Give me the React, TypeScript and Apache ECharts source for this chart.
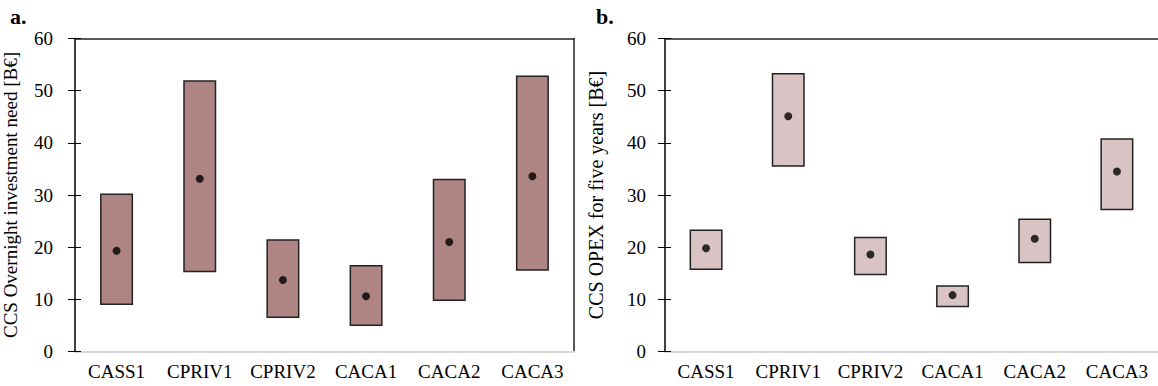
import React, { useEffect, useRef } from "react";
import * as echarts from "echarts";

const categories = ["CASS1", "CPRIV1", "CPRIV2", "CACA1", "CACA2", "CACA3"];

const investLow = [8.9, 15.2, 6.4, 4.9, 9.7, 15.5];
const investHigh = [30.3, 52.0, 21.5, 16.6, 33.1, 52.9];
const investMid = [19.3, 33.1, 13.7, 10.6, 21.0, 33.6];

const opexLow = [15.6, 35.4, 14.6, 8.5, 16.9, 27.1];
const opexHigh = [23.4, 53.4, 22.0, 12.7, 25.5, 40.9];
const opexMid = [19.8, 45.1, 18.6, 10.8, 21.6, 34.5];

const yTicks = [0, 10, 20, 30, 40, 50, 60];

const FONT = "'Liberation Serif', 'Times New Roman', serif";

export default function App() {
  const ref = useRef<HTMLDivElement>(null);

  useEffect(() => {
    if (!ref.current) return;
    const chart = echarts.init(ref.current, null, { renderer: "svg" });

    const yMin = yTicks[0];
    const yMax = yTicks[yTicks.length - 1];
    const yInt = yTicks[1] - yTicks[0];

    const mainY = (grid: number, name: string, nameGap: number, margin: number, nameSize: number) => ({
      type: "value",
      gridIndex: grid,
      position: "left",
      min: yMin,
      max: yMax,
      interval: yInt,
      name,
      nameLocation: "middle",
      nameGap,
      nameTextStyle: { fontFamily: FONT, fontSize: nameSize, color: "#000" },
      axisLine: { show: true, lineStyle: { color: "#000", width: 1.5 } },
      axisTick: { show: true, inside: false, length: 7, lineStyle: { color: "#000", width: 1 } },
      axisLabel: { fontFamily: FONT, fontSize: 19, color: "#000", margin },
      splitLine: { show: false },
    });
    const innerTickY = (grid: number) => ({
      type: "value",
      gridIndex: grid,
      position: "left",
      min: yMin,
      max: yMax,
      interval: yInt,
      axisLine: { show: false },
      axisTick: { show: true, inside: true, length: 6, lineStyle: { color: "#000", width: 1 } },
      axisLabel: { show: false },
      splitLine: { show: false },
    });
    const borderY = (grid: number) => ({
      type: "value",
      gridIndex: grid,
      position: "right",
      min: yMin,
      max: yMax,
      interval: yInt,
      axisLine: { show: true, lineStyle: { color: "#222", width: 1.5 } },
      axisTick: { show: false },
      axisLabel: { show: false },
      splitLine: { show: false },
    });
    const catX = (grid: number) => ({
      type: "category",
      gridIndex: grid,
      data: categories,
      position: "bottom",
      axisLine: { show: true, onZero: false, lineStyle: { color: "#d9d9d9", width: 2 } },
      axisTick: { show: false },
      axisLabel: {
        fontFamily: FONT,
        fontSize: 19,
        color: "#000",
        margin: 10,
        interval: 0,
        hideOverlap: false,
      },
    });
    const topX = (grid: number) => ({
      type: "category",
      gridIndex: grid,
      data: categories,
      position: "top",
      axisLine: { show: true, onZero: false, lineStyle: { color: "#222", width: 1.5 } },
      axisTick: { show: false },
      axisLabel: { show: false },
    });

    const rangeSeries = (
      xi: number,
      yi: number,
      stack: string,
      low: number[],
      high: number[],
      mid: number[],
      color: string
    ) => [
      {
        type: "bar",
        xAxisIndex: xi,
        yAxisIndex: yi,
        stack,
        barWidth: 33,
        data: low,
        itemStyle: { color: "transparent" },
        silent: true,
      },
      {
        type: "bar",
        xAxisIndex: xi,
        yAxisIndex: yi,
        stack,
        barWidth: 33,
        data: high.map((h, i) => +(h - low[i]).toFixed(2)),
        itemStyle: { color, borderColor: "#222", borderWidth: 1.5 },
      },
      {
        type: "scatter",
        xAxisIndex: xi,
        yAxisIndex: yi,
        data: mid,
        symbol: "circle",
        symbolSize: 8,
        itemStyle: { color: "#000" },
        z: 5,
      },
    ];

    chart.setOption({
      animation: false,
      backgroundColor: "#fff",
      grid: [
        { left: 75, top: 38.5, width: 499, height: 313 },
        { left: 665, top: 38.5, width: 499, height: 313 },
      ],
      xAxis: [catX(0), topX(0), catX(1), topX(1)],
      yAxis: [
        mainY(0, "CCS Overnight investment need [B€]", 55, 22, 19),
        innerTickY(0),
        borderY(0),
        mainY(1, "CCS OPEX for five years [B€]", 59, 19, 20),
        innerTickY(1),
      ],
      series: [
        ...rangeSeries(0, 0, "a", investLow, investHigh, investMid, "#af8583"),
        ...rangeSeries(2, 3, "b", opexLow, opexHigh, opexMid, "#d9c3c4"),
      ],
      graphic: [
        {
          type: "text",
          left: 10,
          top: 5,
          style: { text: "a.", font: `bold 22px ${FONT}`, fill: "#000" },
        },
        {
          type: "text",
          left: 596,
          top: 5,
          style: { text: "b.", font: `bold 22px ${FONT}`, fill: "#000" },
        },
      ],
    });

    return () => chart.dispose();
  }, []);

  return (
    <div
      ref={ref}
      style={{ position: "fixed", left: 0, top: 0, width: 1158, height: 386, background: "#fff" }}
    />
  );
}
